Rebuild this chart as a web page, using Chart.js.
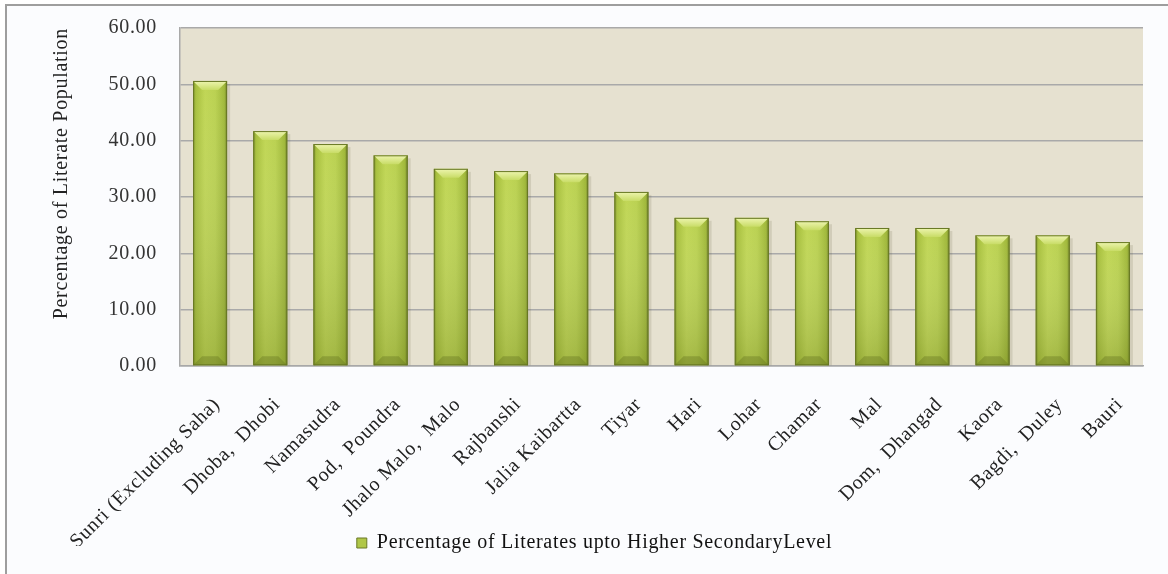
<!DOCTYPE html>
<html lang="en">
<head>
    <meta charset="UTF-8">
    <title>Percentage of Literates upto Higher Secondary Level</title>
    <style>
        body {
            margin: 0;
            background-color: #ffffff;
        }
        .frame {
            position: absolute;
            left: 5px;
            top: 4px;
            width: 1200px;
            height: 620px;
            border: 2px solid #9e9e9e;
            background-color: #fbfcfe;
        }
        .chart-box {
            position: absolute;
            left: 0;
            top: 0;
            width: 1168px;
            height: 574px;
        }
    </style>
    <script src="https://cdn.jsdelivr.net/npm/chart.js"></script>
</head>
<body>
    <div class="frame"></div>
    <div class="chart-box">
        <canvas id="literacyChart"></canvas>
    </div>

    <script>
        // caste groups, ordered by share of literates upto HS level
        const categories = [
            'Sunri (Excluding Saha)', 'Dhoba,  Dhobi', 'Namasudra', 'Pod,  Poundra',
            'Jhalo Malo,  Malo', 'Rajbanshi', 'Jalia Kaibartta', 'Tiyar', 'Hari',
            'Lohar', 'Chamar', 'Mal', 'Dom,  Dhangad', 'Kaora', 'Bagdi,  Duley', 'Bauri'
        ];
        const literatesUptoHS = [
            50.6, 41.7, 39.4, 37.4, 35.0, 34.6, 34.2, 30.9,
            26.3, 26.3, 25.7, 24.5, 24.5, 23.2, 23.2, 22.0
        ];
        const seriesLabel = 'Percentage of Literates upto Higher SecondaryLevel';
        const yAxisTitle = 'Percentage of Literate Population';
        const yTicks = [0, 10, 20, 30, 40, 50, 60];

        const serif = { family: "'Liberation Serif', 'Times New Roman', serif", size: 20 };

        // slightly looser text; the context state is lost whenever the canvas is resized
        const textSpacing = {
            id: 'textSpacing',
            beforeUpdate(chart) { chart.ctx.letterSpacing = '0.7px'; },
            beforeDraw(chart) { chart.ctx.letterSpacing = '0.7px'; },
            // legend sits beside the long rotated labels, not under them
            afterLayout(chart) {
                const lg = chart.legend;
                lg.top -= 23;
                lg.bottom -= 23;
                lg.left += 23;
                lg.right += 23;
            }
        };

        // beige plot area behind the grid
        const plotBackground = {
            id: 'plotBackground',
            beforeDraw(chart) {
                const { ctx, chartArea: a } = chart;
                ctx.save();
                ctx.fillStyle = '#e6e1d0';
                ctx.fillRect(a.left, a.top, a.right - a.left, a.bottom - a.top);
                ctx.restore();
            }
        };

        // bevelled look for the columns
        const barBevel = {
            id: 'barBevel',
            afterDatasetsDraw(chart) {
                const ctx = chart.ctx;
                chart.getDatasetMeta(0).data.forEach(bar => {
                    const { x, y, base, width } = bar.getProps(['x', 'y', 'base', 'width'], true);
                    const l = x - width / 2, r = x + width / 2, h = base - y;
                    const bev = Math.min(9, h / 2);
                    ctx.save();

                    ctx.fillStyle = 'rgba(70, 70, 30, 0.13)';
                    ctx.fillRect(r, y + 3, 3, h - 3);

                    let g = ctx.createLinearGradient(l, 0, r, 0);
                    g.addColorStop(0, '#7d912a');
                    g.addColorStop(0.08, '#a8c03e');
                    g.addColorStop(0.35, '#c0d655');
                    g.addColorStop(0.65, '#bad151');
                    g.addColorStop(0.92, '#a0b83a');
                    g.addColorStop(1, '#6f8027');
                    ctx.fillStyle = g;
                    ctx.fillRect(l, y, width, h);

                    g = ctx.createLinearGradient(0, y, 0, base);
                    g.addColorStop(0, 'rgba(255, 255, 255, 0)');
                    g.addColorStop(1, 'rgba(85, 100, 20, 0.25)');
                    ctx.fillStyle = g;
                    ctx.fillRect(l, y, width, h);

                    // top facet
                    ctx.beginPath();
                    ctx.moveTo(l, y);
                    ctx.lineTo(r, y);
                    ctx.lineTo(r - bev, y + bev);
                    ctx.lineTo(l + bev, y + bev);
                    ctx.closePath();
                    g = ctx.createLinearGradient(0, y, 0, y + bev);
                    g.addColorStop(0, '#eef5b0');
                    g.addColorStop(1, '#c8dc66');
                    ctx.fillStyle = g;
                    ctx.fill();

                    // bottom facet
                    ctx.beginPath();
                    ctx.moveTo(l, base);
                    ctx.lineTo(r, base);
                    ctx.lineTo(r - bev, base - bev);
                    ctx.lineTo(l + bev, base - bev);
                    ctx.closePath();
                    ctx.fillStyle = 'rgba(95, 110, 30, 0.35)';
                    ctx.fill();

                    ctx.strokeStyle = '#687824';
                    ctx.lineWidth = 1;
                    ctx.strokeRect(l + 0.5, y + 0.5, width - 1, h - 1);
                    ctx.restore();
                });
            }
        };

        new Chart(document.getElementById('literacyChart'), {
            type: 'bar',
            data: {
                labels: categories,
                datasets: [{
                    label: seriesLabel,
                    data: literatesUptoHS,
                    backgroundColor: '#b0c748',
                    borderColor: '#6a7926',
                    borderWidth: 1,
                    categoryPercentage: 1,
                    barPercentage: 0.565
                }]
            },
            options: {
                responsive: true,
                maintainAspectRatio: false,
                animation: false,
                layout: {
                    padding: { left: 0, right: 25, top: 28, bottom: -12 }
                },
                plugins: {
                    legend: {
                        position: 'bottom',
                        labels: {
                            font: serif,
                            color: '#111',
                            boxWidth: 10,
                            boxHeight: 10,
                            padding: 10
                        }
                    },
                    tooltip: { enabled: false }
                },
                scales: {
                    x: {
                        grid: { display: false, drawTicks: false },
                        border: { color: '#a8a8a8', width: 1.5 },
                        ticks: {
                            font: serif,
                            color: '#222',
                            minRotation: 45,
                            maxRotation: 45,
                            autoSkip: false,
                            padding: 27,
                            labelOffset: 7
                        },
                        afterFit(scale) {
                            scale.height = 180;
                        }
                    },
                    y: {
                        min: 0,
                        max: 60,
                        afterBuildTicks(scale) {
                            scale.ticks = yTicks.map(v => ({ value: v }));
                        },
                        grid: { color: '#a9a9a9', lineWidth: 1.5, drawTicks: false },
                        border: { color: '#a9a9a9', width: 1.5 },
                        ticks: {
                            font: serif,
                            color: '#333',
                            padding: 23,
                            callback: v => v.toFixed(2)
                        },
                        title: {
                            display: true,
                            text: yAxisTitle,
                            font: serif,
                            color: '#222',
                            align: 'end',
                            padding: { top: 50, bottom: 0 }
                        },
                        afterFit(scale) {
                            scale.width = 180;
                            scale.paddingTop = 0;
                        }
                    }
                }
            },
            plugins: [textSpacing, plotBackground, barBevel]
        });
    </script>
</body>
</html>
